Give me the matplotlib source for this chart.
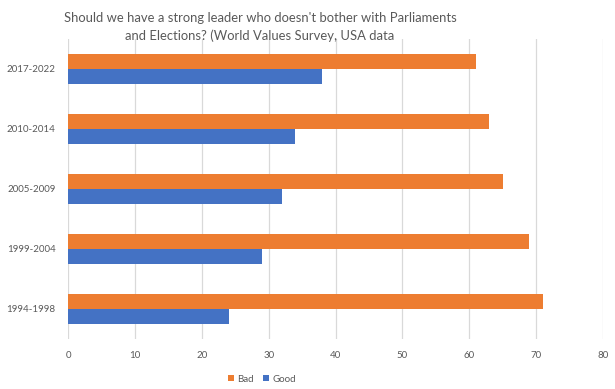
import matplotlib.pyplot as plt
import numpy as np

periods = ["1994-1998", "1999-2004", "2005-2009", "2010-2014", "2017-2022"]
bad = [71, 69, 65, 63, 61]
good = [24, 29, 32, 34, 38]

orange = "#ED7D31"
blue = "#4472C4"
grey = "#595959"

plt.rcParams['font.family'] = ['Lato', 'DejaVu Sans']

fig = plt.figure(figsize=(6.15, 3.89), dpi=100)
ax = fig.add_axes([68/615, 1 - 339/389, 535/615, 300/389])

y = np.arange(len(periods))
h = 0.25
ax.barh(y + h/2, bad, height=h, color=orange, label="Bad", zorder=3)
ax.barh(y - h/2, good, height=h, color=blue, label="Good", zorder=3)

ax.set_xlim(0, 80)
ax.set_ylim(-0.5, len(periods) - 0.5)
ax.set_xticks(range(0, 81, 10))
ax.set_yticks(y)
ax.set_yticklabels(periods)
ax.grid(axis='x', color="#d9d9d9", linewidth=0.9, zorder=0)
ax.tick_params(length=0, labelsize=7, labelcolor=grey)
ax.tick_params(axis='x', pad=9)
ax.tick_params(axis='y', pad=9)
for s in ax.spines.values():
    s.set_visible(False)

fig.text(260/615, 1 - 27/389,
         "Should we have a strong leader who doesn't bother with Parliaments\nand Elections? (World Values Survey, USA data",
         ha='center', va='center', fontsize=9.4, color=grey, linespacing=1.6)

leg = fig.legend(loc='center', bbox_to_anchor=(262/615, 1 - 379/389), ncol=2,
                 frameon=False, fontsize=7, handlelength=0.6, handleheight=0.6,
                 handletextpad=0.3, columnspacing=1.0)
for t in leg.get_texts():
    t.set_color(grey)

fig.savefig("out.png", dpi=100)
